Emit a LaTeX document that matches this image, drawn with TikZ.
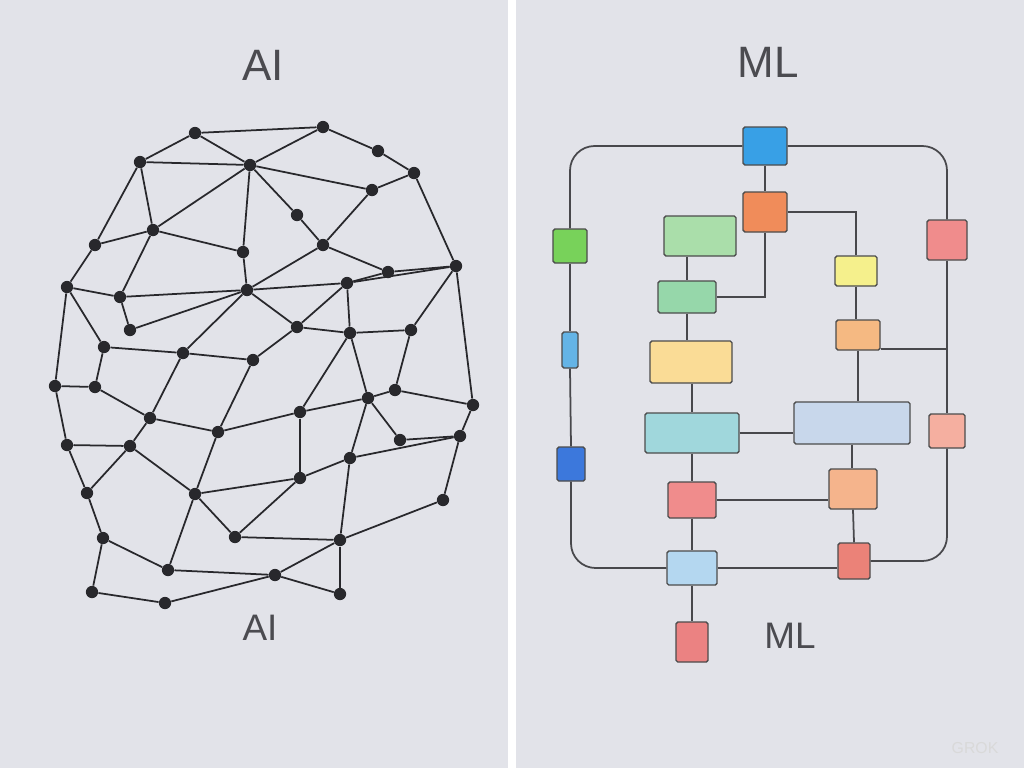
\documentclass[tikz,border=0pt]{standalone}
\usepackage{fontspec}
\setmainfont{Liberation Sans}
\usepackage{xcolor}
\usetikzlibrary{positioning}
\definecolor{bgc}{RGB}{226,227,233}
\definecolor{ink}{RGB}{40,40,44}
\definecolor{lbl}{RGB}{75,75,80}
\tikzset{
  dot/.style={circle,fill=ink,inner sep=0pt,minimum size=7pt},
  net/.style={ink,line width=1pt},
  box/.style={draw=black!70,line width=0.8pt,inner sep=0pt,rounded corners=1pt},
  wire/.style={ink!85,line width=1pt,rounded corners=14pt},
  title/.style={text=lbl,font=\fontsize{25}{25}\selectfont}
}
\begin{document}
\begin{tikzpicture}[x=0.02cm,y=-0.02cm]
\useasboundingbox (0,0) rectangle (1024,768);
\fill[bgc] (0,0) rectangle (1024,768);
\fill[white] (508,0) rectangle (516,768);

% left: network
\foreach \n/\x/\y in {1/195/133,2/323/127,3/140/162,4/250/165,5/378/151,6/414/173,7/372/190,
  8/297/215,9/153/230,10/95/245,11/243/252,12/323/245,13/456/266,14/67/287,15/120/297,
  16/247/290,17/347/283,18/388/272,19/130/330,20/104/347,21/183/353,22/350/333,23/297/327,
  24/411/330,25/55/386,26/95/387,27/150/418,28/253/360,29/368/398,30/395/390,31/473/405,
  32/218/432,33/300/412,34/67/445,35/130/446,36/460/436,37/350/458,38/87/493,39/195/494,
  40/300/478,41/103/538,42/168/570,43/235/537,44/340/540,45/275/575,46/92/592,47/165/603,
  48/340/594,49/443/500,50/400/440}
  \node[dot] (a\n) at (\x,\y) {};
\foreach \a/\b in {3/1,1/4,3/4,4/2,2/5,5/6,4/8,3/9,3/10,9/4,9/11,4/11,8/12,7/12,7/6,6/13,
  12/18,18/13,10/14,10/9,9/15,14/15,15/16,11/16,16/12,16/17,17/18,17/13,14/20,15/19,19/16,
  16/21,20/21,16/23,23/17,17/22,22/24,24/13,13/31,14/25,20/26,25/26,26/27,21/27,21/28,28/23,
  23/22,22/29,29/30,30/24,30/31,28/32,27/32,32/33,33/22,33/29,25/34,34/35,35/27,35/39,32/39,
  39/40,33/40,40/37,37/29,37/36,36/31,34/38,38/35,38/41,41/42,42/39,39/43,43/40,43/44,44/37,
  44/49,49/36,42/45,45/44,41/46,46/47,47/45,45/48,44/48,29/50,50/36,4/7,1/2}
  \draw[net] (a\a) -- (a\b);

% right: flowchart
\foreach \n/\x/\y/\w/\h/\r/\g/\b in {1/765/146/44/38/56/160/230,2/765/212/44/40/240/140/90,
  3/700/236/72/40/170/222/170,4/570/246/34/34/120/210/90,5/947/240/40/40/240/140/140,
  6/856/271/42/30/245/240/140,7/687/297/58/32/150/215/170,8/570/350/16/36/100/180/230,
  9/858/335/44/30/245/185/130,10/691/362/82/42/250/220/150,11/692/433/94/40/160/215/220,
  12/852/423/116/42/200/215/235,13/947/431/36/34/245/175/160,14/571/464/28/34/60/120/220,
  15/692/500/48/36/240/140/140,16/853/489/48/40/245/180/140,17/692/568/50/34/180/215/240,
  18/854/561/32/36/235/130/120,19/692/642/32/40/235/130/130}{
  \definecolor{c\n}{RGB}{\r,\g,\b}
  \node[box,fill=c\n,minimum width=\w*0.02cm,minimum height=\h*0.02cm] (b\n) at (\x,\y) {};
}
\draw[wire] (b1.west) -| (b4.north);
\draw[wire] (b1.east) -| (b5.north);
\draw[wire] (b4.south) -- (b8.north);
\draw[wire] (b8.south) -- (b14.north);
\draw[wire] (b14.south) |- (b17.west);
\draw[wire] (b5.south) -- (b13.north);
\draw[wire] (b13.south) |- (b18.east);
\draw[wire] (b17.east) -- (b18.west|-b17.east);
\draw[wire] (b1.south) -- (b2.north);
\draw[wire,rounded corners=0pt] (b2.east) -| (b6.north);
\draw[wire,rounded corners=0pt] (b2.south) |- (b7.east);
\draw[wire] (b3.south-|b7.north) -- (b7.north);
\draw[wire] (b7.south) -- (b10.north-|b7.south);
\draw[wire] (b10.south-|b11.north) -- (b11.north);
\draw[wire] (b11.south) -- (b15.north);
\draw[wire] (b15.south) -- (b17.north);
\draw[wire] (b17.south) -- (b19.north);
\draw[wire] (b11.east) -- (b12.west|-b11.east);
\draw[wire,rounded corners=0pt] ([yshift=-8]b9.east) -| (b5.south);
\draw[wire] (b6.south) -- (b9.north-|b6.south);
\draw[wire] (b9.south) -- (b12.north-|b9.south);
\draw[wire] (b12.south) -- (b16.north-|b12.south);
\draw[wire] (b16.south) -- (b18.north);
\draw[wire] (b15.east) -- (b16.west|-b15.east);

% titles
\node[title] (tAI) at (263,65) {AI};
\node[title] (tML) at (768,62) {ML};
\node[title,font=\fontsize{21}{21}\selectfont] (sAI) at (260,628) {AI};
\node[title,font=\fontsize{21}{21}\selectfont] (sML) at (790,636) {ML};
\node[text=white!70!gray,font=\fontsize{9}{9}\selectfont] (grok) at (975,748) {GROK};
\end{tikzpicture}
\end{document}
